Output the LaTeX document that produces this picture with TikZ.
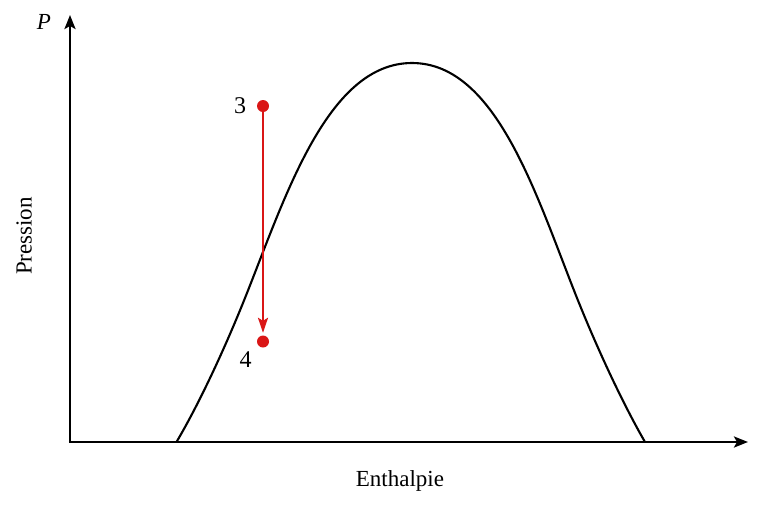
\documentclass[tikz,border=0pt]{standalone}
\usepackage{fontspec}
\setmainfont{Liberation Serif}
\usetikzlibrary{arrows.meta}
\definecolor{dotred}{RGB}{218,22,22}
\begin{document}
\begin{tikzpicture}[x=1pt,y=-1pt,
  axis/.style={line width=2.5pt,-{Stealth[length=14pt,width=11pt,inset=3pt]}},
  curve/.style={line width=2.1pt},
  statept/.style={circle,fill=dotred,inner sep=0pt,minimum size=12pt},
  ptlabel/.style={font=\fontsize{24}{28}\selectfont,inner sep=0pt},
  axlabel/.style={font=\fontsize{23}{27}\selectfont,inner sep=0pt},
  redarrow/.style={dotred,line width=2.1pt,-{Stealth[length=15pt,width=10pt,inset=3pt]}}]
\useasboundingbox (0,0) rectangle (768,512);
\coordinate (O) at (70,442);
\coordinate (Ytop) at (70,15);
\coordinate (Xend) at (748,442);
\draw[axis] (O) -- (Ytop);
\draw[axis] ([xshift=-1.25pt]O) -- (Xend);
\draw[curve] (176.5,442) .. controls (199.5,403) and (225,348) .. (245,298)
  .. controls (285,198) and (327,63) .. (412,63)
  .. controls (497,63) and (537,198) .. (577,298)
  .. controls (597,348) and (622.5,403) .. (645,442);
\node[statept] (p3) at (263,106) {};
\node[statept] (p4) at (263,341.5) {};
\draw[redarrow] (p3.center) -- (p4.north) [shorten >=2.5pt];
\node[ptlabel] (l3) at (240,106) {3};
\node[ptlabel] (l4) at (245.5,360) {4};
\node[axlabel] (lP) at (44,22) {\textit{P}};
\node[axlabel,rotate=90] (lpress) at (24,236) {Pression};
\node[axlabel] (lenth) at (400,481) {Enthalpie};
\end{tikzpicture}
\end{document}
